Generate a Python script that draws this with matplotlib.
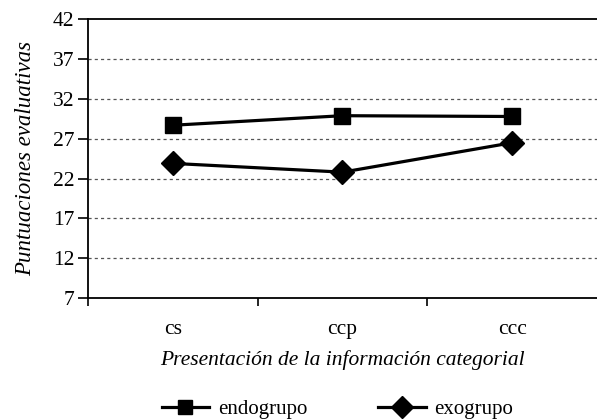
import matplotlib.pyplot as plt

categories = ['cs', 'ccp', 'ccc']
endogrupo = [28.7, 29.9, 29.8]
exogrupo = [23.9, 22.8, 26.5]
yticks = [7, 12, 17, 22, 27, 32, 37, 42]

plt.rcParams['font.family'] = ['Liberation Serif', 'DejaVu Serif']

fig = plt.figure(figsize=(5.97, 4.20), dpi=100)
ax = fig.add_axes([0.1474, 0.291, 0.8526, 0.6626])

x = list(range(len(categories)))
ax.plot(x, endogrupo, color='black', lw=2.3, marker='s', ms=11, label='endogrupo')
ax.plot(x, exogrupo, color='black', lw=2.3, marker='D', ms=12, label='exogrupo')

ax.set_xlim(-0.5, 2.5)
ax.set_ylim(7, 42)
ax.set_yticks(yticks)
ax.set_yticklabels([str(v) for v in yticks], fontsize=15.5)
ax.set_xticks(x)
ax.set_xticklabels(categories, fontsize=15.5)
ax.set_xticks([-0.5, 0.5, 1.5], minor=True)
ax.tick_params(axis='x', which='major', length=0, pad=16)
ax.tick_params(axis='x', which='minor', length=6, width=1.2, direction='out')
ax.tick_params(axis='y', length=7, width=1.2, direction='out', pad=3)

for v in yticks[1:-1]:
    ax.axhline(v, color='#555555', lw=0.9, ls=(0, (2.5, 2.5)), zorder=0)

ax.spines['right'].set_visible(False)
for s in ['left', 'bottom', 'top']:
    ax.spines[s].set_linewidth(1.3)

ax.set_ylabel('Puntuaciones evaluativas', fontsize=16.5, style='italic', labelpad=12)
ax.set_xlabel('Presentación de la información categorial', fontsize=15.5, style='italic', labelpad=8)

fig.legend(loc='lower center', bbox_to_anchor=(0.565, -0.042), ncol=2, frameon=False,
           fontsize=15, handlelength=2.3, handletextpad=0.4, columnspacing=3.4, markerscale=0.95)

plt.savefig('out.png', dpi=100)
